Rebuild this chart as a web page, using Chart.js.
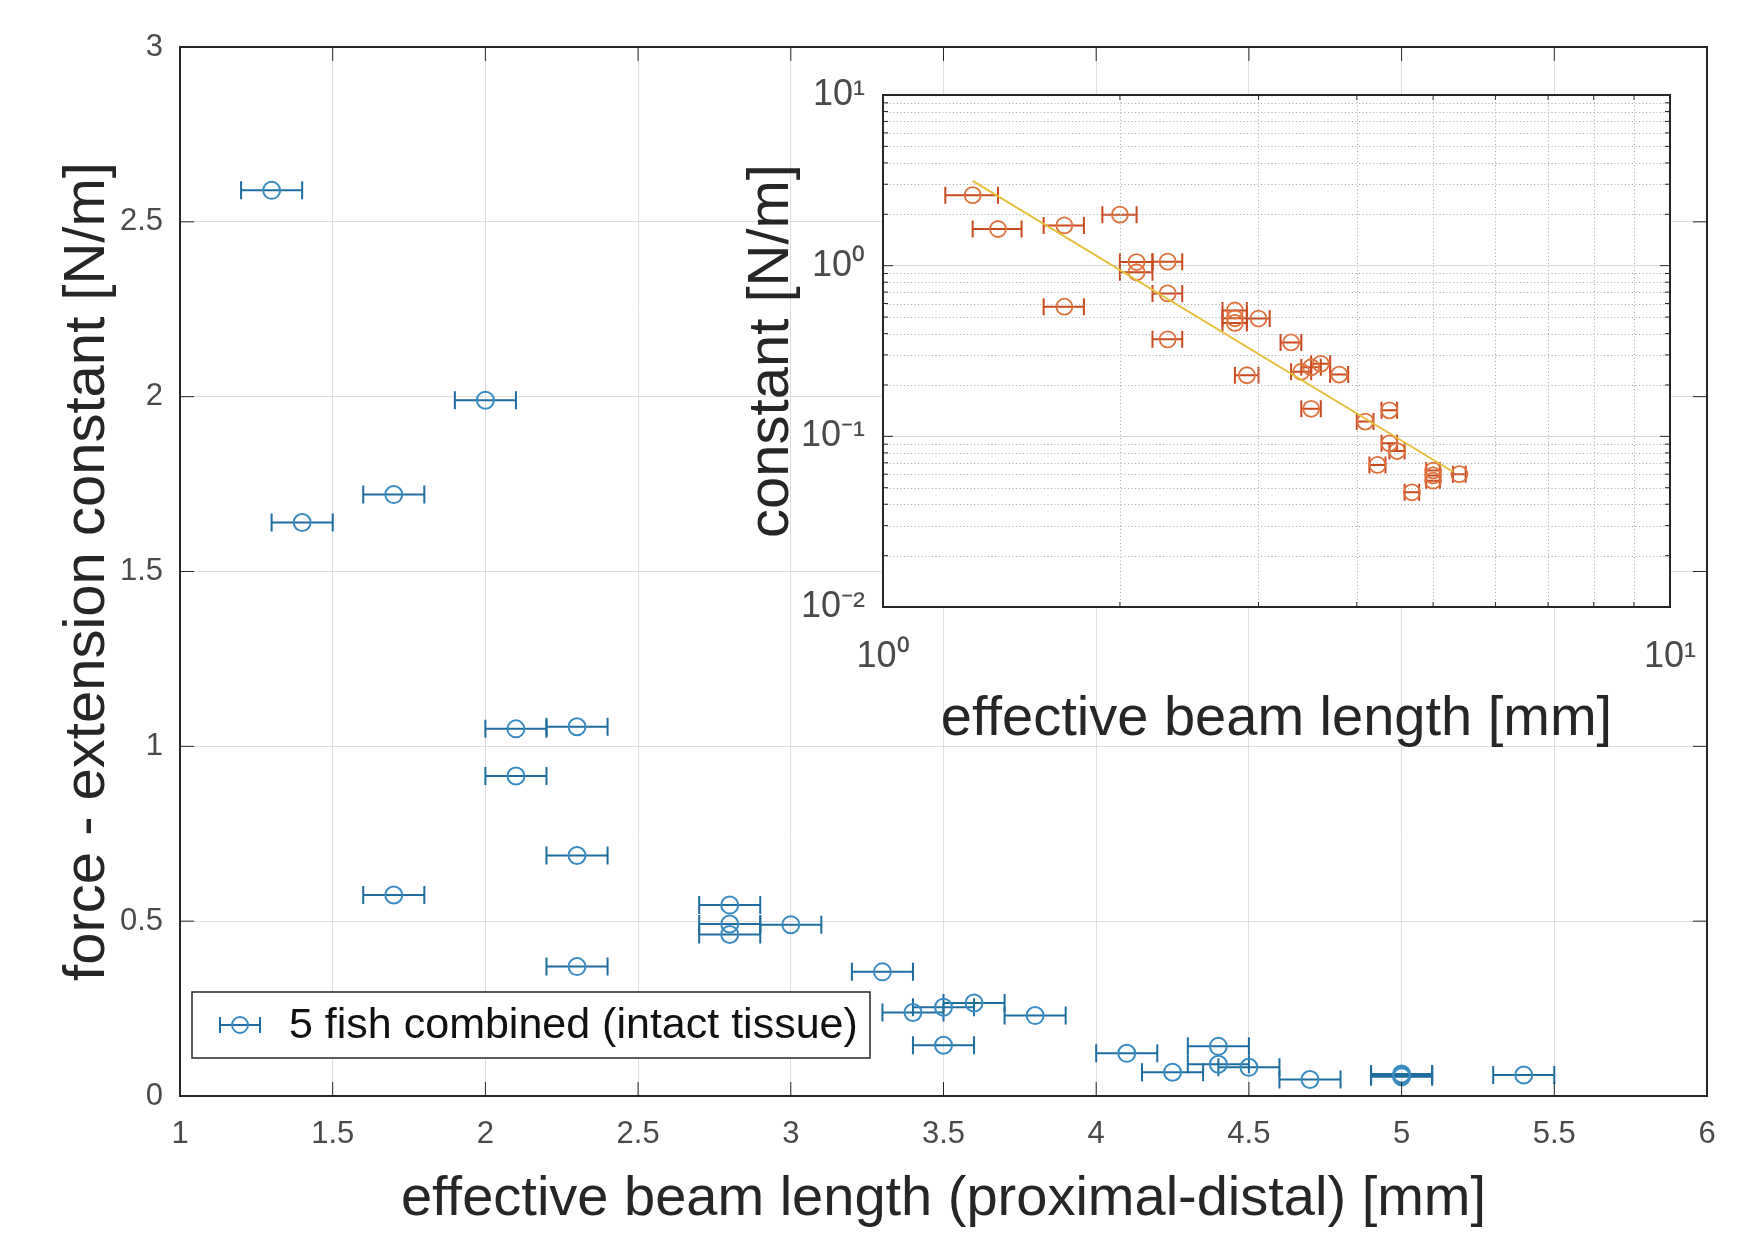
<!DOCTYPE html>
<html><head><meta charset="utf-8">
<script src="https://cdn.jsdelivr.net/npm/chart.js@4.4.1/dist/chart.umd.min.js"></script>
<style>
html,body{margin:0;padding:0;background:#fff;}
#wrap{position:relative;width:1763px;height:1233px;}
canvas{position:absolute;left:0;top:0;}
</style></head><body>
<div id="wrap"><canvas id="main" width="1763" height="1233"></canvas><canvas id="inset" width="1763" height="1233"></canvas></div>
<script>
// ---- data ----
const beamLength = [1.3, 1.4, 1.7, 2.0, 2.1, 2.3, 2.1, 2.3, 1.7, 2.8, 2.8, 2.8, 3.0, 2.3, 3.3, 2.9, 3.4, 3.5, 3.6, 3.8, 3.5, 4.1, 4.4, 4.4, 4.5, 4.25, 4.7, 5.0, 5.0, 5.0, 5.4];
const forceConst = [2.59, 1.64, 1.72, 1.99, 1.05, 1.056, 0.915, 0.688, 0.575, 0.546, 0.492, 0.462, 0.49, 0.37, 0.355, 0.228, 0.239, 0.254, 0.266, 0.23, 0.145, 0.122, 0.142, 0.091, 0.082, 0.068, 0.047, 0.063, 0.059, 0.055, 0.06];
const beamLengthErr = [0.1, 0.1, 0.1, 0.1, 0.1, 0.1, 0.1, 0.1, 0.1, 0.1, 0.1, 0.1, 0.1, 0.1, 0.1, 0.1, 0.1, 0.1, 0.1, 0.1, 0.1, 0.1, 0.1, 0.1, 0.1, 0.1, 0.1, 0.1, 0.1, 0.1, 0.1];
const fitLength = [1.3, 5.3];
const fitConst = [3.14, 0.062];
const mainXTicks = [1, 1.5, 2, 2.5, 3, 3.5, 4, 4.5, 5, 5.5, 6];
const mainYTicks = [0, 0.5, 1, 1.5, 2, 2.5, 3];
const insetXTicks = [1, 10];
const insetXTickLabels = ['10\u2070', '10\u00B9'];
const insetYTicks = [0.01, 0.1, 1, 10];
const insetYTickLabels = ['10\u207B\u00B2', '10\u207B\u00B9', '10\u2070', '10\u00B9'];
const minorMultipliers = [2, 3, 4, 5, 6, 7, 8, 9];
const legendLabel = '5 fish combined (intact tissue)';

const FAMILY = "'Liberation Sans', Arial, Helvetica, sans-serif";
Chart.defaults.font.family = FAMILY;

const BLUE_BAR = '#1f6c9f', BLUE_MK = '#3a8bc2';
const ORANGE_BAR = '#c94a1f', ORANGE_MK = '#e0703c';
const FIT = '#e6bf3c';

const errorBars = {
  id: 'errorBars',
  beforeDatasetsDraw(chart, args, o) {
    const xs = chart.scales.x, ys = chart.scales.y, ctx = chart.ctx;
    ctx.save();
    ctx.strokeStyle = o.color; ctx.lineWidth = o.width;
    o.x.forEach((xv, i) => {
      const e = o.err[i];
      const x1 = xs.getPixelForValue(xv - e), x2 = xs.getPixelForValue(xv + e);
      const y = ys.getPixelForValue(o.y[i]);
      ctx.beginPath();
      ctx.moveTo(x1, y); ctx.lineTo(x2, y);
      ctx.moveTo(x1, y - o.cap); ctx.lineTo(x1, y + o.cap);
      ctx.moveTo(x2, y - o.cap); ctx.lineTo(x2, y + o.cap);
      ctx.stroke();
    });
    ctx.restore();
  }
};

const frame = {
  id: 'frame',
  beforeDraw(chart, args, o) {
    const ctx = chart.ctx, a = chart.chartArea;
    ctx.save();
    ctx.fillStyle = '#ffffff';
    if (o.whole) ctx.fillRect(0, 0, chart.width, chart.height);
    else ctx.fillRect(a.left, a.top, a.right - a.left, a.bottom - a.top);
    ctx.restore();
  },
  beforeDatasetsDraw(chart, args, o) {
    if (!o.minor) return;
    const ctx = chart.ctx, a = chart.chartArea, xs = chart.scales.x, ys = chart.scales.y;
    ctx.save();
    ctx.strokeStyle = '#a8a8a8'; ctx.lineWidth = 1; ctx.setLineDash([1, 2.5]);
    [1].forEach(d => minorMultipliers.forEach(m => {
      const px = Math.round(xs.getPixelForValue(m * d)) + 0.5;
      ctx.beginPath(); ctx.moveTo(px, a.top); ctx.lineTo(px, a.bottom); ctx.stroke();
    }));
    [0.01, 0.1, 1].forEach(d => minorMultipliers.forEach(m => {
      const py = Math.round(ys.getPixelForValue(m * d)) + 0.5;
      ctx.beginPath(); ctx.moveTo(a.left, py); ctx.lineTo(a.right, py); ctx.stroke();
    }));
    ctx.restore();
  },
  afterDraw(chart, args, o) {
    const ctx = chart.ctx, a = chart.chartArea, xs = chart.scales.x, ys = chart.scales.y;
    ctx.save();
    ctx.strokeStyle = '#262626'; ctx.lineWidth = 1;
    const tl = o.tick;
    ctx.beginPath();
    xs.ticks.forEach(t => {
      const px = xs.getPixelForValue(t.value);
      ctx.moveTo(px, a.bottom); ctx.lineTo(px, a.bottom - tl);
      ctx.moveTo(px, a.top); ctx.lineTo(px, a.top + tl);
    });
    ys.ticks.forEach(t => {
      const py = ys.getPixelForValue(t.value);
      ctx.moveTo(a.left, py); ctx.lineTo(a.left + tl, py);
      ctx.moveTo(a.right, py); ctx.lineTo(a.right - tl, py);
    });
    if (o.minor) {
      [1].forEach(d => minorMultipliers.forEach(m => {
        const px = xs.getPixelForValue(m * d);
        ctx.moveTo(px, a.bottom); ctx.lineTo(px, a.bottom - tl / 2);
        ctx.moveTo(px, a.top); ctx.lineTo(px, a.top + tl / 2);
      }));
      [0.01, 0.1, 1].forEach(d => minorMultipliers.forEach(m => {
        const py = ys.getPixelForValue(m * d);
        ctx.moveTo(a.left, py); ctx.lineTo(a.left + tl / 2, py);
        ctx.moveTo(a.right, py); ctx.lineTo(a.right - tl / 2, py);
      }));
    }
    ctx.stroke();
    ctx.lineWidth = 2;
    ctx.strokeRect(a.left, a.top, a.right - a.left, a.bottom - a.top);
    if (o.legend) {
      const L = a.left + 12, T = a.bottom - 104, W = 678, H = 66;
      ctx.fillStyle = '#ffffff';
      ctx.fillRect(L, T, W, H);
      ctx.lineWidth = 1.5; ctx.strokeStyle = '#262626';
      ctx.strokeRect(L, T, W, H);
      const cy = T + H / 2, cx = L + 48;
      ctx.strokeStyle = BLUE_BAR; ctx.lineWidth = 2;
      ctx.beginPath();
      ctx.moveTo(cx - 20, cy); ctx.lineTo(cx + 20, cy);
      ctx.moveTo(cx - 20, cy - 8); ctx.lineTo(cx - 20, cy + 8);
      ctx.moveTo(cx + 20, cy - 8); ctx.lineTo(cx + 20, cy + 8);
      ctx.stroke();
      ctx.strokeStyle = BLUE_MK;
      ctx.beginPath(); ctx.arc(cx, cy, 8, 0, Math.PI * 2); ctx.stroke();
      ctx.fillStyle = '#111111';
      ctx.font = '43px ' + FAMILY;
      ctx.textBaseline = 'middle'; ctx.textAlign = 'left';
      ctx.fillText(legendLabel, L + 97, cy + 1);
    }
    ctx.restore();
  }
};

const pts = beamLength.map((x, i) => ({x, y: forceConst[i]}));
const fitPts = fitLength.map((x, i) => ({x, y: fitConst[i]}));

new Chart(document.getElementById('main'), {
  type: 'scatter',
  data: { datasets: [{
    label: legendLabel, data: pts, showLine: false,
    pointStyle: 'circle', pointRadius: 8.5, borderWidth: 2,
    borderColor: BLUE_MK, backgroundColor: 'rgba(0,0,0,0)'
  }]},
  options: {
    responsive: false, animation: false, devicePixelRatio: 1, events: [],
    layout: { padding: { left: 0, top: 47, right: 56, bottom: 0 } },
    plugins: {
      legend: { display: false }, tooltip: { enabled: false },
      errorBars: { x: beamLength, y: forceConst, err: beamLengthErr, color: BLUE_BAR, width: 2, cap: 9 },
      frame: { whole: true, minor: false, tick: 14, legend: true }
    },
    scales: {
      x: {
        type: 'linear', min: 1, max: 6,
        afterBuildTicks: s => { s.ticks = mainXTicks.map(v => ({value: v})); },
        afterFit: s => { s.height = 137; },
        ticks: { font: { size: 31 }, color: '#4a4a4a', padding: 20, autoSkip: false, maxRotation: 0, callback: v => String(v) },
        grid: { color: '#dedede', lineWidth: 1, drawTicks: false },
        border: { display: false },
        title: { display: true, text: 'effective beam length (proximal-distal) [mm]', font: { size: 56 }, color: '#262626', padding: { top: 0, bottom: 0 } }
      },
      y: {
        type: 'linear', min: 0, max: 3,
        afterBuildTicks: s => { s.ticks = mainYTicks.map(v => ({value: v})); },
        afterFit: s => { s.width = 180; },
        ticks: { font: { size: 31 }, color: '#4a4a4a', padding: 17, autoSkip: false, callback: v => String(v) },
        grid: { color: '#dedede', lineWidth: 1, drawTicks: false },
        border: { display: false },
        title: { display: true, text: 'force - extension constant [N/m]', font: { size: 58 }, color: '#262626', padding: { top: 53, bottom: 0 } }
      }
    }
  },
  plugins: [errorBars, frame]
});

new Chart(document.getElementById('inset'), {
  type: 'scatter',
  data: { datasets: [
    { label: 'fit', data: fitPts, showLine: true, pointRadius: 0, borderColor: FIT, borderWidth: 2, fill: false },
    { label: 'data', data: pts, showLine: false, pointStyle: 'circle', pointRadius: 8, borderWidth: 1.8,
      borderColor: ORANGE_MK, backgroundColor: 'rgba(0,0,0,0)' }
  ]},
  options: {
    responsive: false, animation: false, devicePixelRatio: 1, events: [],
    layout: { padding: { left: 700, top: 95, right: 93, bottom: 476 } },
    plugins: {
      legend: { display: false }, tooltip: { enabled: false },
      errorBars: { x: beamLength, y: forceConst, err: beamLengthErr, color: ORANGE_BAR, width: 2, cap: 8.5 },
      frame: { whole: false, minor: true, tick: 10, legend: false }
    },
    scales: {
      x: {
        type: 'logarithmic', min: 1, max: 10,
        afterBuildTicks: s => { s.ticks = insetXTicks.map(v => ({value: v})); },
        afterFit: s => { s.height = 150; },
        ticks: { font: { size: 36 }, color: '#4a4a4a', padding: 28, autoSkip: false, maxRotation: 0,
                 callback: (v) => insetXTickLabels[insetXTicks.indexOf(v)] },
        grid: { color: '#d6d6d6', lineWidth: 1, drawTicks: false },
        border: { display: false },
        title: { display: true, text: 'effective beam length [mm]', font: { size: 56 }, color: '#262626', padding: { top: 0, bottom: 4 } }
      },
      y: {
        type: 'logarithmic', min: 0.01, max: 10,
        afterBuildTicks: s => { s.ticks = insetYTicks.map(v => ({value: v})); },
        afterFit: s => { s.width = 183; },
        ticks: { font: { size: 36 }, color: '#4a4a4a', padding: 18, autoSkip: false,
                 callback: (v) => insetYTickLabels[insetYTicks.indexOf(v)] },
        grid: { color: '#d6d6d6', lineWidth: 1, drawTicks: false },
        border: { display: false },
        title: { display: true, text: 'constant [N/m]', font: { size: 58 }, color: '#262626', padding: { top: 37, bottom: 0 } }
      }
    }
  },
  plugins: [errorBars, frame]
});
</script>
</body></html>
